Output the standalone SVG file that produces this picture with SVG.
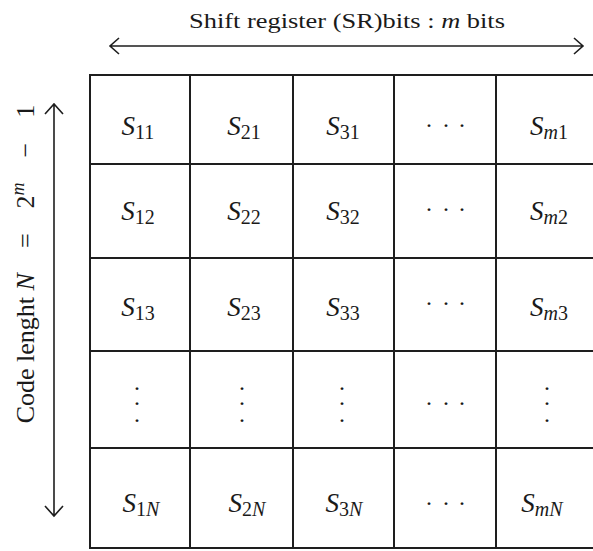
<svg xmlns="http://www.w3.org/2000/svg" width="593" height="551" viewBox="0 0 593 551">
<style>
text{font-family:"Liberation Serif","Times New Roman",serif;fill:#1a1a1a}
.lbl{font-size:27px;font-style:italic}
.sub{font-size:20px;font-style:normal}
.subi{font-size:20px;font-style:italic}
.dot{font-size:24px;text-anchor:middle}
.grid line{stroke:#1e1e1e;stroke-width:2}
.arr{stroke:#1e1e1e;stroke-width:1.6;fill:none}
</style>
<rect width="593" height="551" fill="#fff"/>
<g id="labels">
<text id="top-label" transform="translate(347,28) scale(1.2,1)" font-size="22" text-anchor="middle">Shift register (SR)bits : <tspan font-style="italic">m</tspan> bits</text>
<text id="left-label" transform="translate(34,264) rotate(-90)" font-size="26" text-anchor="middle">Code lenght <tspan font-style="italic">N</tspan><tspan dx="25">=</tspan><tspan dx="25">2</tspan><tspan font-style="italic" font-size="18" dy="-10">m</tspan><tspan dy="10" dx="25">−</tspan><tspan dx="25">1</tspan></text>
</g>
<g id="connectors">
<path class="arr" d="M110 46H583M119 38L110 46L119 54M574 38L583 46L574 54"/>
<path class="arr" d="M54 104V516M45 114L54 104L63 114M45 506L54 516L63 506"/>
</g>
<g id="grid" class="grid">
<line x1="90" y1="75" x2="593" y2="75"/>
<line x1="90" y1="164" x2="593" y2="164"/>
<line x1="90" y1="258" x2="593" y2="258"/>
<line x1="90" y1="351" x2="593" y2="351"/>
<line x1="90" y1="448" x2="593" y2="448"/>
<line x1="90" y1="548" x2="593" y2="548"/>
<line x1="90" y1="74" x2="90" y2="549"/>
<line x1="190" y1="74" x2="190" y2="549"/>
<line x1="293" y1="74" x2="293" y2="549"/>
<line x1="394" y1="74" x2="394" y2="549"/>
<line x1="496" y1="74" x2="496" y2="549"/>
</g>
<g id="cells">
<g id="row1">
<text class="lbl" x="138" y="135" text-anchor="middle">S<tspan class="sub" dy="4">11</tspan></text>
<text class="lbl" x="244" y="135" text-anchor="middle">S<tspan class="sub" dy="4">21</tspan></text>
<text class="lbl" x="343" y="135" text-anchor="middle">S<tspan class="sub" dy="4">31</tspan></text>
<text class="dot" x="429 446 462" y="126.5">...</text>
<text class="lbl" x="549" y="135" text-anchor="middle">S<tspan class="subi" dy="4">m</tspan><tspan class="sub">1</tspan></text>
</g>
<g id="row2">
<text class="lbl" x="138" y="220" text-anchor="middle">S<tspan class="sub" dy="4">12</tspan></text>
<text class="lbl" x="244" y="220" text-anchor="middle">S<tspan class="sub" dy="4">22</tspan></text>
<text class="lbl" x="343" y="220" text-anchor="middle">S<tspan class="sub" dy="4">32</tspan></text>
<text class="dot" x="429 446 462" y="210.5">...</text>
<text class="lbl" x="549" y="220" text-anchor="middle">S<tspan class="subi" dy="4">m</tspan><tspan class="sub">2</tspan></text>
</g>
<g id="row3">
<text class="lbl" x="138" y="316" text-anchor="middle">S<tspan class="sub" dy="4">13</tspan></text>
<text class="lbl" x="244" y="316" text-anchor="middle">S<tspan class="sub" dy="4">23</tspan></text>
<text class="lbl" x="343" y="316" text-anchor="middle">S<tspan class="sub" dy="4">33</tspan></text>
<text class="dot" x="429 446 462" y="305">...</text>
<text class="lbl" x="549" y="316" text-anchor="middle">S<tspan class="subi" dy="4">m</tspan><tspan class="sub">3</tspan></text>
</g>
<g id="row4">
<text class="dot" x="137 137 137" y="389.5 404.5 421.5">...</text>
<text class="dot" x="242 242 242" y="389.5 404.5 421.5">...</text>
<text class="dot" x="342 342 342" y="389.5 404.5 421.5">...</text>
<text class="dot" x="429 446 462" y="404.5">...</text>
<text class="dot" x="547 547 547" y="389.5 404.5 421.5">...</text>
</g>
<g id="row5">
<text class="lbl" x="141" y="512" text-anchor="middle">S<tspan class="sub" dy="4">1</tspan><tspan class="subi">N</tspan></text>
<text class="lbl" x="247" y="512" text-anchor="middle">S<tspan class="sub" dy="4">2</tspan><tspan class="subi">N</tspan></text>
<text class="lbl" x="344" y="512" text-anchor="middle">S<tspan class="sub" dy="4">3</tspan><tspan class="subi">N</tspan></text>
<text class="dot" x="429 446 462" y="504.5">...</text>
<text class="lbl" x="542" y="512" text-anchor="middle">S<tspan class="subi" dy="4">mN</tspan></text>
</g>
</g>
</svg>
